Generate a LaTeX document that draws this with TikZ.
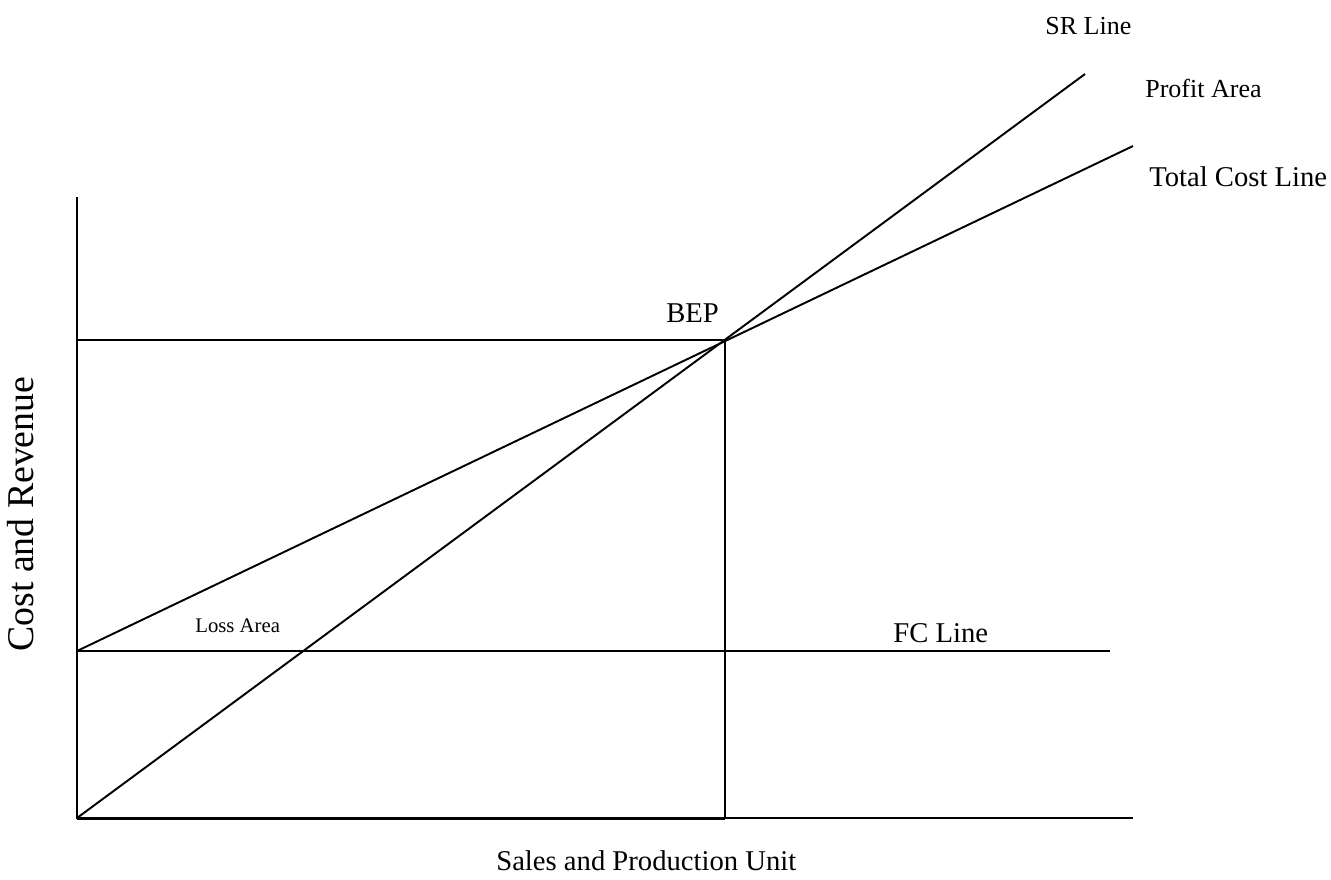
\documentclass[tikz,border=0pt]{standalone}
\usepackage{fontspec}
\setmainfont{Liberation Serif}
\usetikzlibrary{positioning}

\tikzset{
  axis/.style={line width=1.1pt},
  curve/.style={line width=1.1pt},
  lbl/.style={inner sep=0pt, anchor=base west, font=\fontsize{16.3}{18}\selectfont},
  lblsmall/.style={lbl, font=\fontsize{14.8}{16}\selectfont},
  lbltiny/.style={lbl, font=\fontsize{11.8}{13}\selectfont}
}

\begin{document}
\begin{tikzpicture}[x=0.02cm, y=-0.02cm]
\useasboundingbox (0,0) rectangle (1331,879);

%% axes and key points
\coordinate (origin) at (77,818);
\coordinate (ytop) at (77,197);
\coordinate (xend) at (1133,818);
\coordinate (fc0) at (77,651);
\coordinate (fcend) at (1110,651);
\coordinate (bep) at (725,340);
\coordinate (bepy) at (77,340);
\coordinate (bepx) at (725,818);
\coordinate (srend) at (1085,74);
\coordinate (tcend) at (1133,146);

\draw[axis] (ytop) -- (origin) -- (xend);
\draw[line width=1.7pt] (origin) -- (bepx);

% break even box
\draw[axis] (bepy) -- (bep) -- (bepx);

% lines
\draw[curve] (fc0) -- (fcend);
\draw[curve] (fc0) -- (tcend);
\draw[curve] (origin) -- (srend);

%% labels
\node[lblsmall] (sr_lbl) at (1045,34) {SR Line};
\node[lblsmall] (profit_lbl) at (1145,97) {Profit Area};
\node[lbl] (tc_lbl) at (1149,186) {Total Cost Line};
\node[lbl] (bep_lbl) at (666,322) {BEP};
\node[lbl] (fc_lbl) at (893,642) {FC Line};
\node[lbltiny] (loss_lbl) at (195,632) {Loss Area};
\node[lbl] (x_lbl) at (496,870) {Sales and Production Unit};
\node[lbl, rotate=90, font=\fontsize{21.5}{23}\selectfont] (y_lbl) at (33,652) {Cost and Revenue};

\end{tikzpicture}
\end{document}
